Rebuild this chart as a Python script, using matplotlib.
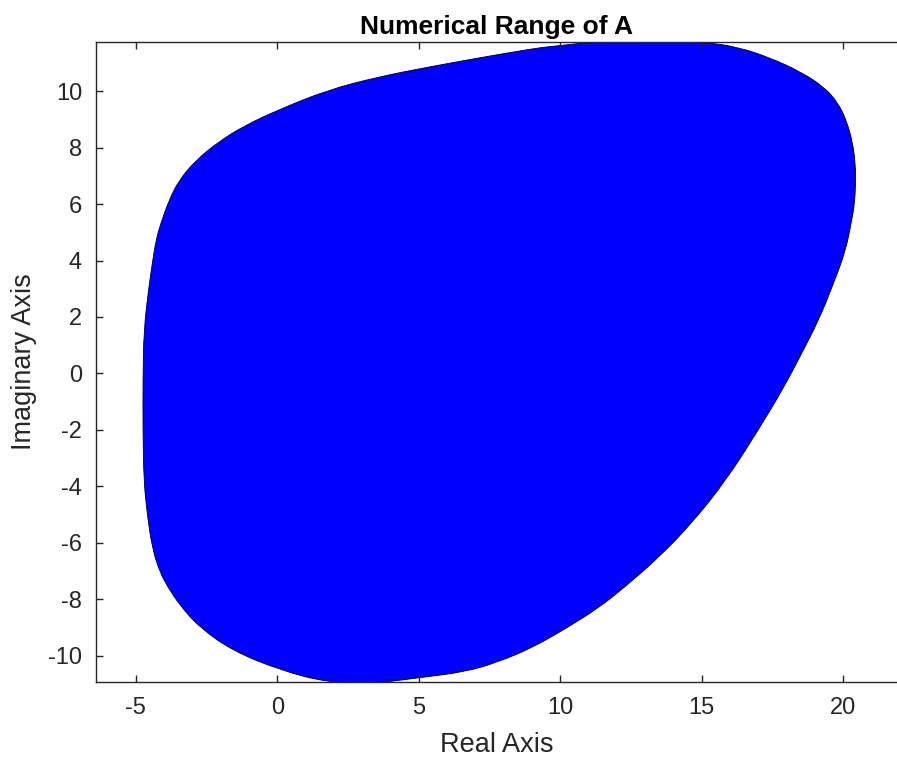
import matplotlib
matplotlib.use("Agg")
import matplotlib.pyplot as plt
from matplotlib.path import Path
from matplotlib.patches import PathPatch

plt.rcParams['font.family'] = ['Liberation Sans', 'DejaVu Sans']
plt.rcParams['axes.unicode_minus'] = False

# Boundary of the numerical range
boundary_x = [20.44, 20.43, 20.33, 20.10, 19.80, 19.35, 18.53, 17.37, 16.30, 15.14,
              12.50, 9.95, 7.69, 5.32, 3.55, 1.78, 0.02, -1.15, -2.06, -2.88,
              -3.48, -3.83, -4.12, -4.29, -4.42, -4.55, -4.72, -4.75, -4.75, -4.72,
              -4.60, -4.42, -4.15, -3.85, -3.45, -2.80, -1.60, 0.16, 1.71, 3.30,
              5.00, 6.66, 7.83, 9.00, 10.19, 11.36, 12.30, 13.50, 14.65, 15.85,
              17.00, 17.90, 18.53, 19.13, 19.66, 20.09, 20.30, 20.40]
boundary_y = [6.77, 7.40, 8.20, 9.00, 9.60, 10.12, 10.67, 11.20, 11.55, 11.74,
              11.80, 11.65, 11.28, 10.85, 10.50, 10.04, 9.33, 8.78, 8.22, 7.55,
              6.84, 6.13, 5.32, 4.72, 3.90, 3.00, 1.52, -0.25, -2.02, -3.79,
              -5.00, -6.20, -7.05, -7.60, -8.20, -8.95, -9.82, -10.53, -10.93, -11.00,
              -10.78, -10.57, -10.21, -9.72, -9.04, -8.30, -7.55, -6.50, -5.30, -3.80,
              -2.00, -0.50, 0.71, 1.88, 3.19, 4.36, 5.43, 6.00]

x_ticks = [-5, 0, 5, 10, 15, 20]
y_ticks = [-10, -8, -6, -4, -2, 0, 2, 4, 6, 8, 10]

axis_color = '#262626'

fig = plt.figure(figsize=(8.97, 7.60), dpi=100)
ax = fig.add_axes([96/897, 1 - 682/760, 1 - 96/897, (682 - 42)/760])

# Smooth closed outline: quadratic Bezier through the midpoints of the read points
n = len(boundary_x)
pts = list(zip(boundary_x, boundary_y))
mids = [((pts[i][0] + pts[(i + 1) % n][0]) / 2, (pts[i][1] + pts[(i + 1) % n][1]) / 2)
        for i in range(n)]
verts = [mids[-1]]
codes = [Path.MOVETO]
for i in range(n):
    verts += [pts[i], mids[i]]
    codes += [Path.CURVE3, Path.CURVE3]
verts.append(mids[-1])
codes.append(Path.CLOSEPOLY)
patch = PathPatch(Path(verts, codes), facecolor=(0, 0, 1), edgecolor='black', linewidth=0.6)
ax.add_patch(patch)

ax.set_xlim(-6.41, 21.9)
ax.set_ylim(-10.93, 11.74)
ax.set_xticks(x_ticks)
ax.set_yticks(y_ticks)

ax.tick_params(direction='in', length=5, width=1, colors=axis_color,
               labelsize=17, top=True, right=False)
ax.tick_params(axis='x', pad=11)
ax.tick_params(axis='y', pad=10)
for side in ['left', 'bottom', 'top']:
    ax.spines[side].set_color(axis_color)
    ax.spines[side].set_linewidth(1)
ax.spines['right'].set_visible(False)

ax.set_xlabel('Real Axis', fontsize=19.5, color=axis_color, labelpad=9)
ax.set_ylabel('Imaginary Axis', fontsize=19.5, color=axis_color, labelpad=8)
ax.set_title('Numerical Range of A', fontsize=19, fontweight='bold', color='black', pad=6)

fig.savefig('out.png', dpi=100)
